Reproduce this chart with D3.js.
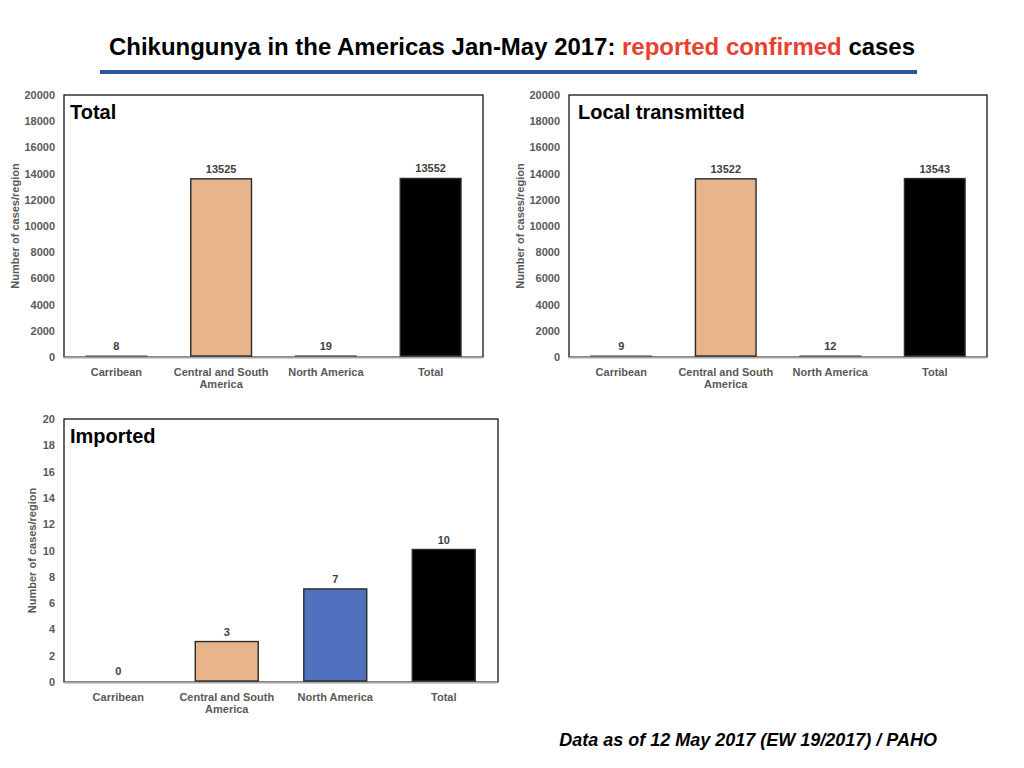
<!DOCTYPE html>
<html>
<head>
<meta charset="utf-8">
<script src="https://cdn.jsdelivr.net/npm/d3@7"></script>
<style>
  body { margin: 0; background: #fff; }
  svg { display: block; font-family: "Liberation Sans", Arial, sans-serif; }
</style>
</head>
<body>
<div id="chart"></div>
<script>
// Chikungunya reported confirmed cases, Jan-May 2017

const categories = ['Carribean', 'Central and South America', 'North America', 'Total'];
const totalValues = [8, 13525, 19, 13552];
const localValues = [9, 13522, 12, 13543];
const importedValues = [0, 3, 7, 10];
const bigTicks = [0, 2000, 4000, 6000, 8000, 10000, 12000, 14000, 16000, 18000, 20000];
const smallTicks = [0, 2, 4, 6, 8, 10, 12, 14, 16, 18, 20];

const barColor = d3.scaleOrdinal()
  .domain(categories)
  .range(['#a5a5a5', '#e8b48b', '#4f71be', '#000000']);

const width = 1024;
const height = 768;

const svg = d3.select('#chart')
  .append('svg')
  .attr('width', width)
  .attr('height', height);

// Title
const title = svg.append('text')
  .attr('x', 512)
  .attr('y', 55)
  .attr('text-anchor', 'middle')
  .style('font-size', '24px')
  .style('font-weight', 'bold')
  .attr('textLength', 806)
  .attr('lengthAdjust', 'spacingAndGlyphs');
title.append('tspan').attr('fill', '#000').text('Chikungunya in the Americas Jan-May 2017: ');
title.append('tspan').attr('fill', '#e8412f').text('reported confirmed');
title.append('tspan').attr('fill', '#000').text(' cases');

svg.append('rect')
  .attr('x', 100)
  .attr('y', 70)
  .attr('width', 817)
  .attr('height', 4)
  .attr('fill', '#2b5797');

// Footer
svg.append('text')
  .attr('x', 937)
  .attr('y', 746)
  .attr('text-anchor', 'end')
  .style('font-size', '18px')
  .style('font-weight', 'bold')
  .style('font-style', 'italic')
  .text('Data as of 12 May 2017 (EW 19/2017) / PAHO');

function wrap(textSel, maxWidth) {
  textSel.each(function () {
    const text = d3.select(this);
    const words = text.text().split(/\s+/);
    const y = text.attr('y');
    const dy = parseFloat(text.attr('dy'));
    text.text(null);
    let line = [];
    let lineNumber = 0;
    let tspan = text.append('tspan').attr('x', 0).attr('y', y).attr('dy', dy + 'em');
    words.forEach(word => {
      line.push(word);
      tspan.text(line.join(' '));
      if (tspan.node().getComputedTextLength() > maxWidth && line.length > 1) {
        line.pop();
        tspan.text(line.join(' '));
        line = [word];
        tspan = text.append('tspan')
          .attr('x', 0)
          .attr('y', y)
          .attr('dy', (++lineNumber * 1.15 + dy) + 'em')
          .text(word);
      }
    });
  });
}

function drawPanel(opts) {
  const { left, top, w, h, values, ticks, label, labelX, yTitleOffset } = opts;
  const g = svg.append('g').attr('transform', `translate(${left},${top})`);

  const x = d3.scaleBand()
    .domain(categories)
    .range([0, w])
    .paddingInner(0.42)
    .paddingOuter(0.21);

  const y = d3.scaleLinear()
    .domain([0, d3.max(ticks)])
    .range([h, 0]);

  // Frame
  g.append('rect')
    .attr('width', w)
    .attr('height', h)
    .attr('fill', 'none')
    .attr('stroke', '#000')
    .attr('stroke-width', 1.2);

  // Baseline
  g.append('line')
    .attr('x1', 0)
    .attr('x2', w)
    .attr('y1', h + 0.5)
    .attr('y2', h + 0.5)
    .attr('stroke', '#a6a6a6')
    .attr('stroke-width', 2);

  // Bars
  const data = categories.map((c, i) => ({ name: c, value: values[i] }));
  g.selectAll('rect.bar')
    .data(data.filter(d => d.value > 0))
    .enter()
    .append('rect')
    .attr('class', 'bar')
    .attr('x', d => x(d.name))
    .attr('y', d => y(d.value) - 1)
    .attr('width', x.bandwidth())
    .attr('height', d => h - y(d.value))
    .attr('fill', d => barColor(d.name))
    .attr('stroke', '#2a2a2a')
    .attr('stroke-opacity', d => (h - y(d.value)) < 2 ? 0.5 : 1)
    .attr('stroke-width', 1.4);

  // Value labels
  g.selectAll('text.value')
    .data(data)
    .enter()
    .append('text')
    .attr('class', 'value')
    .attr('x', d => x(d.name) + x.bandwidth() / 2)
    .attr('y', d => y(d.value) - 7)
    .attr('text-anchor', 'middle')
    .style('font-size', '11px')
    .style('font-weight', 'bold')
    .attr('fill', '#404040')
    .text(d => d.value);

  // Y axis
  const yAxis = g.append('g')
    .call(d3.axisLeft(y).tickValues(ticks).tickSize(0).tickPadding(9).tickFormat(d3.format('d')));
  yAxis.select('.domain').remove();
  yAxis.selectAll('text')
    .style('font-size', '11px')
    .style('font-weight', 'bold')
    .style('font-family', '"Liberation Sans", Arial, sans-serif')
    .attr('fill', '#595959');

  // X axis
  const xAxis = g.append('g')
    .attr('transform', `translate(0,${h})`)
    .call(d3.axisBottom(x).tickSize(0).tickPadding(11));
  xAxis.select('.domain').remove();
  xAxis.selectAll('text')
    .style('font-size', '11px')
    .style('font-weight', 'bold')
    .style('font-family', '"Liberation Sans", Arial, sans-serif')
    .attr('fill', '#595959')
    .call(wrap, 95);

  // Y axis title
  g.append('text')
    .attr('transform', `translate(${-yTitleOffset},${h / 2}) rotate(-90)`)
    .attr('text-anchor', 'middle')
    .attr('dy', '0.35em')
    .style('font-size', '11px')
    .style('font-weight', 'bold')
    .attr('fill', '#595959')
    .text('Number of cases/region');

  // Panel label
  g.append('text')
    .attr('x', labelX)
    .attr('y', 24)
    .style('font-size', '20px')
    .style('font-weight', 'bold')
    .attr('fill', '#000')
    .text(label);
}

drawPanel({ left: 64, top: 95, w: 419, h: 262, values: totalValues, ticks: bigTicks, label: 'Total', labelX: 6, yTitleOffset: 49 });
drawPanel({ left: 569, top: 95, w: 418, h: 262, values: localValues, ticks: bigTicks, label: 'Local transmitted', labelX: 9, yTitleOffset: 49 });
drawPanel({ left: 64, top: 419, w: 434, h: 263, values: importedValues, ticks: smallTicks, label: 'Imported', labelX: 6, yTitleOffset: 32 });
</script>
</body>
</html>
